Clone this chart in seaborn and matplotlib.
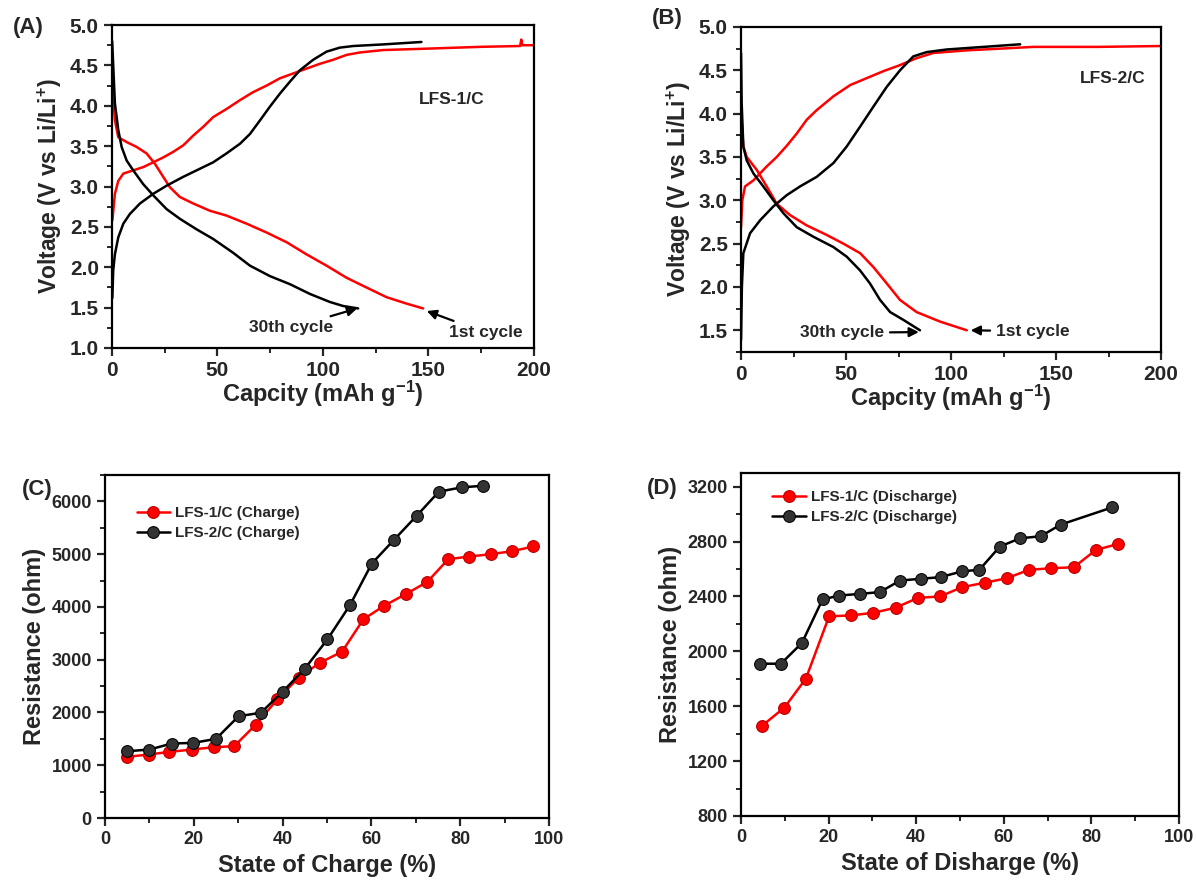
import seaborn as sns
import matplotlib.pyplot as plt
import matplotlib.ticker as mtick
import pandas as pd

# (A) LFS-1/C charge / discharge curves (1st cycle red, 30th cycle black)
a_red_chg_x = [0.2, 1.4, 3.0, 5.4, 10.1, 14.8, 19.6, 24.3, 29.1, 33.8, 38.5, 43.3, 48.0, 54.3, 60.7, 67.0,
               73.3, 79.6, 85.9, 92.2, 98.6, 104.9, 111.2, 117.5, 128.6, 152.3, 175, 193.5, 194, 194.5, 200]
a_red_chg_y = [2.58, 2.91, 3.07, 3.16, 3.20, 3.24, 3.30, 3.36, 3.43, 3.51, 3.63, 3.74, 3.86, 3.96, 4.07, 4.17,
               4.25, 4.34, 4.40, 4.46, 4.52, 4.57, 4.63, 4.66, 4.69, 4.71, 4.73, 4.74, 4.82, 4.75, 4.75]
a_red_dis_x = [0.2, 1.4, 3.0, 7.0, 11.7, 16.4, 20.4, 24.3, 27.5, 32.2, 38.5, 46.4, 54.3, 63.8, 73.3, 82.8,
               92.2, 101.7, 111.2, 120.6, 130.1, 139.6, 147.5]
a_red_dis_y = [4.25, 3.82, 3.61, 3.55, 3.49, 3.41, 3.28, 3.12, 2.99, 2.87, 2.79, 2.70, 2.64, 2.54, 2.43, 2.31,
               2.16, 2.02, 1.87, 1.75, 1.63, 1.55, 1.49]
a_blk_chg_x = [0.2, 0.6, 1.4, 3.0, 5.4, 8.5, 13.3, 19.6, 25.9, 33.8, 41.7, 48.0, 54.3, 60.7, 65.4, 70.2,
               74.9, 79.6, 84.4, 89.1, 95.4, 101.7, 108.0, 114.4, 128.6, 146.7]
a_blk_chg_y = [1.62, 1.96, 2.16, 2.37, 2.54, 2.66, 2.79, 2.91, 3.01, 3.12, 3.22, 3.30, 3.41, 3.53, 3.65, 3.82,
               3.99, 4.15, 4.30, 4.44, 4.57, 4.67, 4.72, 4.74, 4.76, 4.79]
a_blk_dis_x = [0.1, 1.4, 3.0, 4.6, 7.0, 10.1, 14.8, 19.6, 25.9, 32.2, 40.1, 48.0, 57.4, 65.4, 74.9, 84.4,
               93.8, 103.3, 109.6, 116.7]
a_blk_dis_y = [4.8, 4.03, 3.70, 3.49, 3.32, 3.20, 3.03, 2.89, 2.72, 2.60, 2.47, 2.35, 2.18, 2.02, 1.89, 1.79,
               1.67, 1.57, 1.52, 1.49]

# (B) LFS-2/C charge / discharge curves
b_red_chg_x = [0, 0.6, 1.9, 5.9, 12.2, 17, 21.8, 26.5, 31.3, 36, 44, 52, 59.9, 67.8, 75.7, 83.6, 91.6,
               107.5, 139.3, 170, 200]
b_red_chg_y = [2.69, 3.0, 3.16, 3.23, 3.39, 3.50, 3.63, 3.77, 3.93, 4.04, 4.20, 4.33, 4.41, 4.49, 4.56, 4.64,
               4.70, 4.73, 4.77, 4.77, 4.78]
b_red_dis_x = [0, 1.1, 2.7, 7.5, 12.2, 17, 23.3, 31.3, 40.8, 48.7, 56.7, 63, 69.4, 75.7, 83.6, 94.8, 107.5]
b_red_dis_y = [4.0, 3.62, 3.50, 3.35, 3.16, 2.96, 2.83, 2.71, 2.60, 2.50, 2.39, 2.23, 2.04, 1.85, 1.71, 1.60,
               1.50]
b_blk_chg_x = [0, 0.4, 1.1, 4.3, 9.1, 15.4, 21.8, 28.1, 36, 44, 50.3, 56.7, 63, 69.4, 75.7, 82, 88.4,
               97.9, 115.4, 132.9]
b_blk_chg_y = [1.39, 2.0, 2.39, 2.62, 2.77, 2.93, 3.06, 3.16, 3.27, 3.43, 3.62, 3.85, 4.08, 4.31, 4.50, 4.66,
               4.71, 4.74, 4.77, 4.80]
b_blk_dis_x = [0, 0.3, 1.1, 2.7, 5.9, 10.6, 15.4, 20.2, 26.5, 34.4, 44, 50.3, 56.7, 61.4, 66.2, 71, 77.3,
               85.2]
b_blk_dis_y = [4.7, 4.12, 3.62, 3.46, 3.31, 3.16, 3.0, 2.85, 2.69, 2.58, 2.46, 2.35, 2.19, 2.04, 1.85, 1.71,
               1.62, 1.50]

# (C) resistance vs state of charge
c_lfs1_soc = [4.9, 9.8, 14.5, 19.5, 24.5, 29.1, 34.0, 38.8, 43.6, 48.4, 53.4, 58.2, 62.8, 67.7, 72.6, 77.3,
              82.1, 86.9, 91.7, 96.5]
c_lfs1_res = [1158, 1203, 1253, 1297, 1342, 1361, 1772, 2247, 2658, 2943, 3152, 3766, 4019, 4241, 4475, 4905,
              4956, 5000, 5057, 5146]
c_lfs2_soc = [5.0, 10.0, 15.0, 19.9, 25.0, 30.1, 35.1, 40.0, 45.0, 50.1, 55.2, 60.1, 65.1, 70.2, 75.2, 80.3,
              85.2]
c_lfs2_res = [1266, 1297, 1411, 1424, 1500, 1930, 1994, 2392, 2829, 3386, 4038, 4823, 5272, 5728, 6184, 6266,
              6297]

# (D) resistance vs state of discharge
d_lfs1_sod = [4.7, 9.9, 14.8, 20.1, 25.1, 30.2, 35.3, 40.4, 45.4, 50.5, 55.6, 60.7, 65.7, 70.8, 76.0, 81.0,
              86.1]
d_lfs1_res = [1455, 1590, 1801, 2255, 2262, 2281, 2318, 2390, 2400, 2468, 2500, 2533, 2594, 2606, 2613, 2739,
              2783]
d_lfs2_sod = [4.3, 9.1, 13.9, 18.6, 22.4, 27.2, 31.7, 36.3, 41.0, 45.6, 50.5, 54.4, 59.1, 63.7, 68.4, 73.0,
              84.8]
d_lfs2_res = [1910, 1910, 2061, 2378, 2407, 2419, 2432, 2516, 2529, 2541, 2584, 2594, 2764, 2824, 2839, 2924,
              3050]

RED = '#ff0000'
BLACK = '#000000'

sns.set_style("ticks")
plt.rcParams['font.family'] = ['Liberation Sans', 'DejaVu Sans']
plt.rcParams['font.weight'] = 'bold'
plt.rcParams['axes.labelweight'] = 'bold'
plt.rcParams['mathtext.fontset'] = 'custom'
plt.rcParams['mathtext.rm'] = 'Liberation Sans:bold'
plt.rcParams['mathtext.bf'] = 'Liberation Sans:bold'
plt.rcParams['mathtext.default'] = 'bf'


def style_axes(ax, xmaj, xmin, ymaj, ymin, tsize):
    for sp in ax.spines.values():
        sp.set_visible(True)
        sp.set_linewidth(1.6)
        sp.set_color('black')
    ax.xaxis.set_major_locator(mtick.MultipleLocator(xmaj))
    ax.xaxis.set_minor_locator(mtick.MultipleLocator(xmin))
    ax.yaxis.set_major_locator(mtick.MultipleLocator(ymaj))
    ax.yaxis.set_minor_locator(mtick.MultipleLocator(ymin))
    ax.tick_params(which='major', direction='out', length=6, width=1.6, labelsize=tsize)
    ax.tick_params(which='minor', direction='out', length=3.5, width=1.4)
    for lab in ax.get_xticklabels() + ax.get_yticklabels():
        lab.set_fontweight('bold')


def curve(ax, x, y, color):
    df = pd.DataFrame({'x': x, 'y': y})
    sns.lineplot(data=df, x='x', y='y', color=color, lw=1.8, sort=False,
                 estimator=None, ax=ax)


fig = plt.figure(figsize=(11.96, 8.81), dpi=100)
ax_a = fig.add_axes([0.0936, 0.605, 0.3528, 0.3666])
ax_b = fig.add_axes([0.6196, 0.6005, 0.3512, 0.3689])
ax_c = fig.add_axes([0.0878, 0.0715, 0.3712, 0.3893])
ax_d = fig.add_axes([0.6196, 0.0738, 0.3662, 0.3893])

arrow = dict(arrowstyle='-|>', color='black', lw=1.6, mutation_scale=14)

# panel A
curve(ax_a, a_red_chg_x, a_red_chg_y, RED)
curve(ax_a, a_red_dis_x, a_red_dis_y, RED)
curve(ax_a, a_blk_chg_x, a_blk_chg_y, BLACK)
curve(ax_a, a_blk_dis_x, a_blk_dis_y, BLACK)
ax_a.set(xlim=(0, 200), ylim=(1.0, 5.0))
style_axes(ax_a, 50, 25, 0.5, 0.25, 15)
ax_a.set_xlabel('Capcity (mAh g$^{-1}$)', fontsize=17, fontweight='bold', labelpad=-1)
ax_a.set_ylabel('Voltage (V vs Li/Li$^{+}$)', fontsize=16.5, fontweight='bold')
ax_a.text(161, 4.08, 'LFS-1/C', fontsize=12.5, fontweight='bold', ha='center', va='center')
ax_a.annotate('30th cycle', xy=(117.5, 1.5), xytext=(85, 1.25), fontsize=12.5,
              fontweight='bold', ha='center', va='center', arrowprops=arrow)
ax_a.annotate('1st cycle', xy=(148, 1.47), xytext=(177, 1.19), fontsize=12.5,
              fontweight='bold', ha='center', va='center', arrowprops=arrow)

# panel B
curve(ax_b, b_red_chg_x, b_red_chg_y, RED)
curve(ax_b, b_red_dis_x, b_red_dis_y, RED)
curve(ax_b, b_blk_chg_x, b_blk_chg_y, BLACK)
curve(ax_b, b_blk_dis_x, b_blk_dis_y, BLACK)
ax_b.set(xlim=(0, 200), ylim=(1.25, 5.0))
style_axes(ax_b, 50, 25, 0.5, 0.25, 15)
ax_b.set_xlabel('Capcity (mAh g$^{-1}$)', fontsize=17, fontweight='bold', labelpad=-1)
ax_b.set_ylabel('Voltage (V vs Li/Li$^{+}$)', fontsize=16.5, fontweight='bold')
ax_b.text(177, 4.41, 'LFS-2/C', fontsize=12.5, fontweight='bold', ha='center', va='center')
ax_b.annotate('30th cycle', xy=(86, 1.48), xytext=(48, 1.47), fontsize=12.5,
              fontweight='bold', ha='center', va='center', arrowprops=arrow)
ax_b.annotate('1st cycle', xy=(108, 1.5), xytext=(139, 1.49), fontsize=12.5,
              fontweight='bold', ha='center', va='center', arrowprops=arrow)

# panel C
mk = dict(marker='o', markersize=8.5, lw=1.8)
sns.lineplot(x=c_lfs1_soc, y=c_lfs1_res, color=RED, markeredgecolor='#b00000',
             label='LFS-1/C (Charge)', ax=ax_c, **mk)
sns.lineplot(x=c_lfs2_soc, y=c_lfs2_res, color=BLACK, markeredgecolor='black',
             markerfacecolor='#333333', label='LFS-2/C (Charge)', ax=ax_c, **mk)
ax_c.set(xlim=(0, 100), ylim=(0, 6500))
style_axes(ax_c, 20, 10, 1000, 500, 13)
ax_c.set_xlabel('State of Charge (%)', fontsize=17, fontweight='bold')
ax_c.set_ylabel('Resistance (ohm)', fontsize=17, fontweight='bold')
ax_c.legend(loc='upper left', bbox_to_anchor=(0.04, 0.95), frameon=False,
            prop={'weight': 'bold', 'size': 11}, handlelength=2.2, handletextpad=0.3,
            labelspacing=0.4)

# panel D
sns.lineplot(x=d_lfs1_sod, y=d_lfs1_res, color=RED, markeredgecolor='#b00000',
             label='LFS-1/C (Discharge)', ax=ax_d, **mk)
sns.lineplot(x=d_lfs2_sod, y=d_lfs2_res, color=BLACK, markeredgecolor='black',
             markerfacecolor='#333333', label='LFS-2/C (Discharge)', ax=ax_d, **mk)
ax_d.set(xlim=(0, 100), ylim=(800, 3300))
style_axes(ax_d, 20, 10, 400, 200, 13)
ax_d.set_xlabel('State of Disharge (%)', fontsize=17, fontweight='bold')
ax_d.set_ylabel('Resistance (ohm)', fontsize=17, fontweight='bold')
ax_d.legend(loc='upper left', bbox_to_anchor=(0.04, 0.99), frameon=False,
            prop={'weight': 'bold', 'size': 11}, handlelength=2.2, handletextpad=0.3,
            labelspacing=0.4)

fig.text(0.024, 0.969, '(A)', fontsize=16, fontweight='bold', ha='center', va='center')
fig.text(0.558, 0.979, '(B)', fontsize=16, fontweight='bold', ha='center', va='center')
fig.text(0.031, 0.444, '(C)', fontsize=16, fontweight='bold', ha='center', va='center')
fig.text(0.554, 0.446, '(D)', fontsize=16, fontweight='bold', ha='center', va='center')

fig.savefig('out.png', dpi=100)
